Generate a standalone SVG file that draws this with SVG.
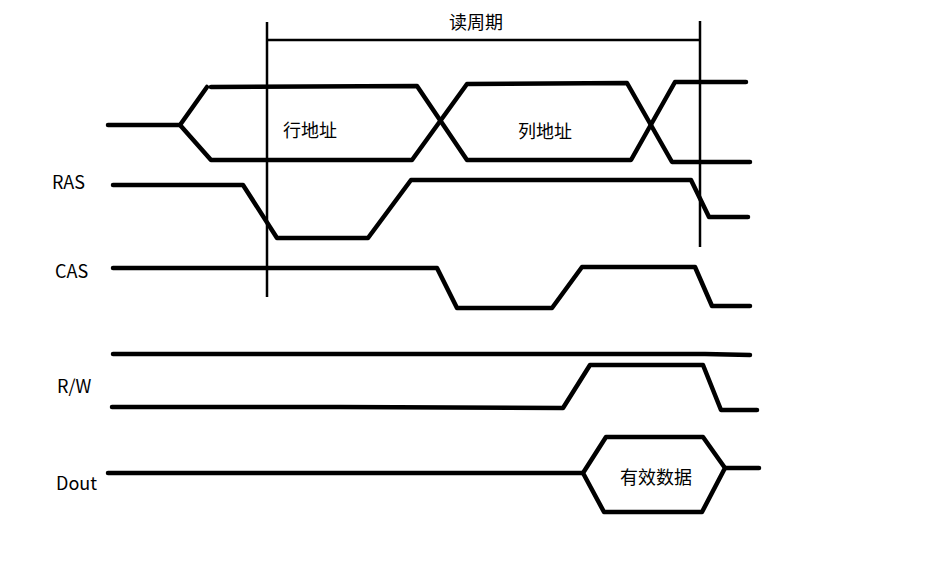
<svg xmlns="http://www.w3.org/2000/svg" width="940" height="574" viewBox="0 0 940 574">
<style>
.sig{fill:none;stroke:#000;stroke-width:4.5;stroke-linecap:round;stroke-linejoin:round}
.thin{fill:none;stroke:#000;stroke-width:2.5}
.t{font-family:"Noto Sans CJK SC","Microsoft YaHei",sans-serif;font-size:18px;fill:#000}
.l{font-family:"Noto Sans CJK SC","Liberation Sans",sans-serif;font-size:18px;fill:#000}
</style>
<rect width="940" height="574" fill="#fff"/>
<g id="markers">
<line class="thin" x1="267" y1="22" x2="267" y2="297"/>
<line class="thin" x1="700" y1="21" x2="700" y2="247"/>
<line class="thin" x1="267" y1="40" x2="700" y2="40"/>
<text class="t" x="476" y="29" text-anchor="middle">读周期</text>
</g>
<g id="address">
<polyline class="sig" points="108,125 180,125 207,87"/>
<polyline class="sig" points="180,125 211,160 412,160 467,84 627,83 672,162 750,162"/>
<polyline class="sig" points="211,87 417,86 467,160 631,160 675,82 746,82"/>
<text class="t" x="310" y="137" text-anchor="middle">行地址</text>
<text class="t" x="545" y="138" text-anchor="middle">列地址</text>
</g>
<g id="RAS">
<text class="l" x="52" y="189">RAS</text>
<polyline class="sig" points="113,185 243,185 277,238 368,238 411,180 691,180 709,217 748,217"/>
</g>
<g id="CAS">
<text class="l" x="55" y="278">CAS</text>
<polyline class="sig" points="113,268 437,268 457,308 552,308 582,267 695,267 712,306 750,306"/>
</g>
<g id="RW">
<text class="l" x="57" y="393">R/W</text>
<polyline class="sig" points="113,354 705,354 750,355"/>
<polyline class="sig" points="112,407 340,407 563,408 590,365 703,365 721,410 757,410"/>
</g>
<g id="Dout">
<text class="l" x="56" y="490">Dout</text>
<polyline class="sig" points="108,473 583,473"/>
<polygon class="sig" points="583,473 606,437 703,437 725,468 702,512 604,512"/>
<polyline class="sig" points="725,468 759,468"/>
<text class="t" x="656" y="484" text-anchor="middle">有效数据</text>
</g>
</svg>
